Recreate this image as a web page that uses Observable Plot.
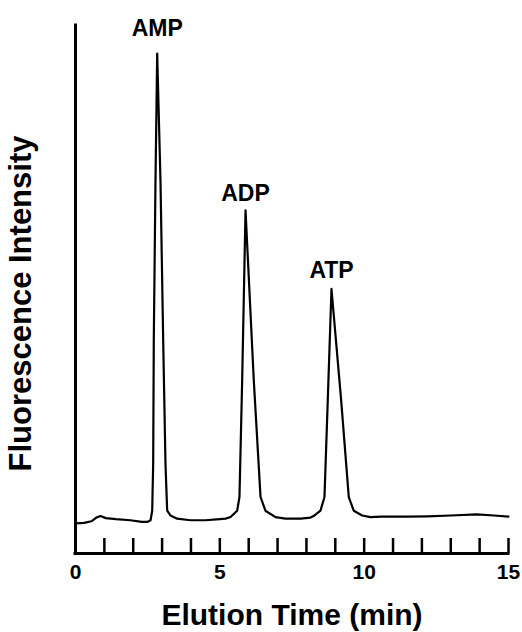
<!DOCTYPE html>
<html>
<head>
<meta charset="utf-8">
<script src="https://cdn.jsdelivr.net/npm/d3@7"></script>
<script src="https://cdn.jsdelivr.net/npm/@observablehq/plot@0.6"></script>
<style>
  html, body { margin: 0; padding: 0; background: #fff; }
</style>
</head>
<body>
<div id="chart"></div>
<script>
// Elution time (min) and fluorescence intensity (arbitrary units, 0–100)
const time = [
  0, 0.3, 0.55, 0.72, 0.87, 1.05, 1.4, 1.9, 2.3, 2.5, 2.6,
  2.657, 2.691, 2.712, 2.771, 2.83, 2.944, 3.038, 3.117, 3.176, 3.29, 3.52, 3.98,
  4.5, 5.0, 5.2, 5.37, 5.6, 5.68, 5.774, 5.89, 6.176, 6.41, 6.58, 6.93, 7.27,
  7.8, 8.14, 8.28, 8.486, 8.625, 8.739, 8.868, 9.203, 9.467, 9.64, 9.93, 10.22,
  10.6, 11.5, 12.2, 13.0, 13.9, 14.5, 15.0
];
const intensity = [
  5.7, 5.8, 6.1, 6.8, 7.1, 6.7, 6.5, 6.3, 6.0, 6.0, 6.3,
  8.1, 17.0, 40.3, 70.6, 94.7, 70.6, 40.3, 17.0, 8.1, 7.2, 6.6, 6.3,
  6.3, 6.5, 6.6, 6.9, 8.1, 10.7, 32.8, 65.0, 32.8, 10.7, 8.1, 6.9, 6.6,
  6.6, 6.8, 7.2, 8.1, 10.7, 29.0, 50.1, 29.0, 10.7, 8.1, 7.2, 6.9,
  7.0, 7.0, 7.05, 7.2, 7.4, 7.2, 7.0
];

// Peak labels
const peakNames = ["AMP", "ADP", "ATP"];
const peakTimes = [2.83, 5.89, 8.87];
const peakLabelIntensity = [99.5, 68.1, 53.5];

// Axis ticks
const xTicks = [1, 2, 3, 4, 5, 6, 7, 8, 9, 10, 11, 12, 13, 14, 15];
const xTickLabels = [0, 5, 10, 15];

const trace = time.map((t, i) => ({time: t, intensity: intensity[i]}));
const peaks = peakNames.map((n, i) => ({name: n, time: peakTimes[i], intensity: peakLabelIntensity[i]}));

const font = "'Liberation Sans', Arial, Helvetica, sans-serif";

const chart = Plot.plot({
  width: 522,
  height: 632,
  marginLeft: 75,
  marginRight: 14,
  marginTop: 25,
  marginBottom: 79,
  style: {fontFamily: font, fontWeight: "bold", color: "#000", background: "#fff"},
  x: {domain: [0, 15]},
  y: {domain: [0, 100], axis: null},
  marks: [
    Plot.tickX(xTicks, {x: d => d, insetTop: 513, stroke: "#000", strokeWidth: 2.5}),
    Plot.ruleX([0], {stroke: "#000", strokeWidth: 3, strokeLinecap: "square"}),
    Plot.ruleY([0], {stroke: "#000", strokeWidth: 3, strokeLinecap: "square"}),
    Plot.axisX({ticks: xTickLabels, tickSize: 0, tickPadding: 11, fontSize: 21, fontWeight: "bold", label: null, tickFormat: d => String(d)}),
    Plot.line(trace, {x: "time", y: "intensity", stroke: "#000", strokeWidth: 2.2, strokeLinejoin: "round"}),
    Plot.text(peaks, {x: "time", y: "intensity", text: "name", fontSize: 23, fontWeight: "bold", lineAnchor: "middle", fill: "#000"}),
    Plot.text(["Elution Time (min)"], {frameAnchor: "bottom", textAnchor: "middle", dy: 62, fontSize: 30, fontWeight: "bold", lineAnchor: "middle", fill: "#000"}),
    Plot.text(["Fluorescence Intensity"], {frameAnchor: "left", textAnchor: "middle", dx: -54, dy: 14, rotate: -90, fontSize: 31, fontWeight: "bold", lineAnchor: "middle", fill: "#000"})
  ]
});
document.getElementById("chart").appendChild(chart);
</script>
</body>
</html>
